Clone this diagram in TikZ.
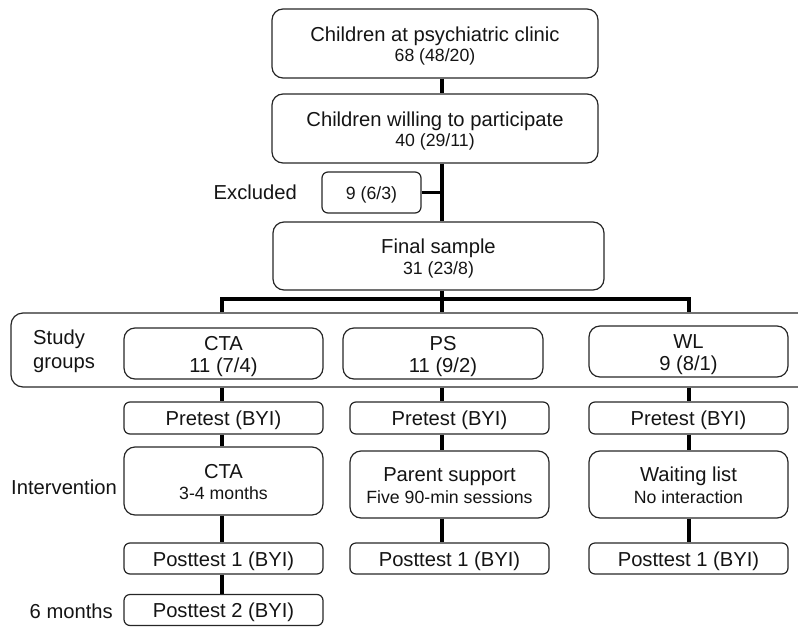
\documentclass[tikz,border=0pt]{standalone}
\usepackage{fontspec}
\setmainfont{Liberation Sans}
\begin{document}
\begin{tikzpicture}[x=1pt,y=-1pt,
  box/.style={draw=black!85, line width=1.2pt, rounded corners=11pt, inner sep=0pt},
  sbox/.style={box, rounded corners=6pt},
  conn/.style={line width=3.2pt, black},
  big/.style={font=\fontsize{20.2}{24}\selectfont, inner sep=0pt, text=black!92},
  small/.style={font=\fontsize{17.7}{21}\selectfont, inner sep=0pt, text=black!92}]
\useasboundingbox (0,0) rectangle (798,627);
\clip (0,0) rectangle (798,627);
% column coordinates
\coordinate (cx) at (442,0);
\coordinate (colA) at (222,0);
\coordinate (colB) at (442,0);
\coordinate (colC) at (689,0);
\coordinate (busL) at (222,299);
\coordinate (busR) at (689,299);

% top boxes
\node[box, minimum width=326pt, minimum height=69pt] (b1) at (435,43.5) {};
\node[big, anchor=base] (b1t) at (435,41) {Children at psychiatric clinic};
\node[small, anchor=base] (b1n) at (435,61.5) {68 (48/20)};

\node[box, minimum width=326pt, minimum height=69pt] (b2) at (435,128.5) {};
\node[big, anchor=base] (b2t) at (435,126) {Children willing to participate};
\node[small, anchor=base] (b2n) at (435,146.5) {40 (29/11)};

\node[sbox, minimum width=99pt, minimum height=41pt] (ex) at (371.5,192.5) {};
\node[small, anchor=base] (ext) at (371.5,199) {9 (6/3)};
\node[big, anchor=base east] (exl) at (297,199.5) {Excluded};

\node[box, minimum width=331pt, minimum height=68pt] (fin) at (438.5,256) {};
\node[big, anchor=base] (fint) at (438.5,253) {Final sample};
\node[small, anchor=base] (finn) at (438.5,274) {31 (23/8)};

% study groups band
\node[box, rounded corners=12pt, minimum width=799pt, minimum height=74pt] (outer) at (410.5,350) {};
\node[big, anchor=base west] (sg1) at (33,344) {Study};
\node[big, anchor=base west] (sg2) at (33,368) {groups};

\node[box, minimum width=199pt, minimum height=51pt] (gA) at (223.5,353.5) {};
\node[big, anchor=base] (gAt) at (223.5,350) {CTA};
\node[big, anchor=base] (gAn) at (223.5,372.5) {11 (7/4)};

\node[box, minimum width=200pt, minimum height=51pt] (gB) at (443,353.5) {};
\node[big, anchor=base] (gBt) at (443,350) {PS};
\node[big, anchor=base] (gBn) at (443,372.5) {11 (9/2)};

\node[box, minimum width=199pt, minimum height=51pt] (gC) at (688.5,351.5) {};
\node[big, anchor=base] (gCt) at (688.5,348) {WL};
\node[big, anchor=base] (gCn) at (688.5,370.5) {9 (8/1)};

% pretest
\node[sbox, minimum width=199pt, minimum height=32pt] (pA) at (223.5,418) {};
\node[big, anchor=base] (pAt) at (223.5,425.5) {Pretest (BYI)};
\node[sbox, minimum width=199pt, minimum height=32pt] (pB) at (449.5,418) {};
\node[big, anchor=base] (pBt) at (449.5,425.5) {Pretest (BYI)};
\node[sbox, minimum width=199pt, minimum height=32pt] (pC) at (688.5,418) {};
\node[big, anchor=base] (pCt) at (688.5,425.5) {Pretest (BYI)};

% intervention
\node[big, anchor=base east] (ivl) at (117,494) {Intervention};
\node[box, minimum width=199pt, minimum height=68pt] (iA) at (223.5,481) {};
\node[big, anchor=base] (iAt) at (223.5,478) {CTA};
\node[small, anchor=base] (iAn) at (223.5,499.5) {3-4 months};
\node[box, minimum width=199pt, minimum height=67pt] (iB) at (449.5,484.5) {};
\node[big, anchor=base] (iBt) at (449.5,481.5) {Parent support};
\node[small, anchor=base] (iBn) at (449.5,503) {Five 90-min sessions};
\node[box, minimum width=199pt, minimum height=67pt] (iC) at (688.5,484.5) {};
\node[big, anchor=base] (iCt) at (688.5,481.5) {Waiting list};
\node[small, anchor=base] (iCn) at (688.5,503) {No interaction};

% posttest 1
\node[sbox, minimum width=199pt, minimum height=31pt] (qA) at (223.5,558.5) {};
\node[big, anchor=base] (qAt) at (223.5,566) {Posttest 1 (BYI)};
\node[sbox, minimum width=199pt, minimum height=31pt] (qB) at (449.5,558.5) {};
\node[big, anchor=base] (qBt) at (449.5,566) {Posttest 1 (BYI)};
\node[sbox, minimum width=199pt, minimum height=31pt] (qC) at (688.5,558.5) {};
\node[big, anchor=base] (qCt) at (688.5,566) {Posttest 1 (BYI)};

% posttest 2
\node[big, anchor=base east] (sml) at (113,618) {6 months};
\node[sbox, minimum width=199pt, minimum height=31pt] (rA) at (223.5,610) {};
\node[big, anchor=base] (rAt) at (223.5,617.5) {Posttest 2 (BYI)};

% connectors
\draw[conn] (b1.south -| cx) -- (b2.north -| cx);
\draw[conn] (b2.south -| cx) -- (fin.north -| cx);
\draw[conn] (ex.east) -- (ex.east -| cx);
\draw[conn] (fin.south -| cx) -- (outer.north -| cx);
\draw[conn] (outer.north -| busL) |- (busR) -- (outer.north -| busR);

\draw[conn] (outer.south -| colA) -- (pA.north -| colA);
\draw[conn] (outer.south -| colB) -- (pB.north -| colB);
\draw[conn] (outer.south -| colC) -- (pC.north -| colC);

\draw[conn] (pA.south -| colA) -- (iA.north -| colA);
\draw[conn] (pB.south -| colB) -- (iB.north -| colB);
\draw[conn] (pC.south -| colC) -- (iC.north -| colC);

\draw[conn] (iA.south -| colA) -- (qA.north -| colA);
\draw[conn] (iB.south -| colB) -- (qB.north -| colB);
\draw[conn] (iC.south -| colC) -- (qC.north -| colC);

\draw[conn] (qA.south -| colA) -- (rA.north -| colA);
\end{tikzpicture}
\end{document}
